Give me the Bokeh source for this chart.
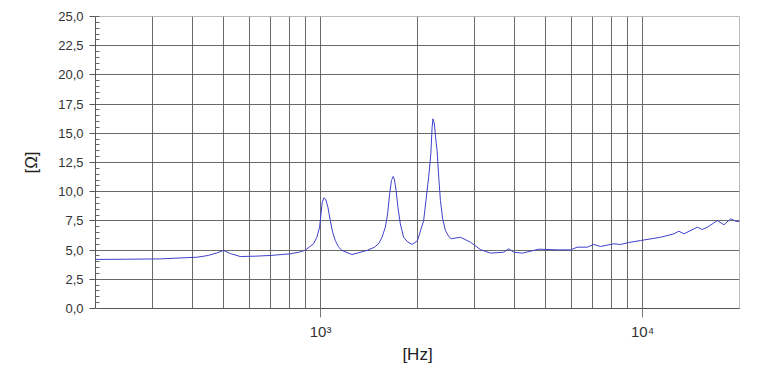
from bokeh.plotting import figure
from bokeh.models import FixedTicker, CustomJSTickFormatter, Range1d
from bokeh.embed import file_html
from bokeh.resources import INLINE

freq_hz = [200, 250, 318, 413, 448, 475, 500, 525, 563, 627, 698, 805, 865, 897,
           951, 974, 993, 1003, 1012, 1025, 1039, 1054, 1072, 1090, 1111, 1138, 1166,
           1252, 1394, 1470, 1514, 1552, 1589, 1615, 1639, 1660, 1680, 1694, 1716,
           1739, 1769, 1811, 1864, 1924, 2000, 2090, 2125, 2166, 2200, 2220, 2234,
           2257, 2276, 2301, 2328, 2356, 2394, 2442, 2501, 2545, 2719, 2920, 3135,
           3369, 3706, 3841, 3981, 4227, 4593, 4761, 5430, 5973, 6266, 6731, 7057,
           7403, 8142, 8543, 9067, 9858, 11373, 12514, 12966, 13440, 14794, 15335,
           15893, 17068, 17890, 18770, 19460, 20000]
impedance_ohm = [4.2, 4.22, 4.25, 4.39, 4.54, 4.75, 4.97, 4.7, 4.45, 4.48, 4.54, 4.68,
                 4.85, 5.0, 5.54, 6.1, 6.96, 8.1, 9.1, 9.48, 9.3, 8.67, 7.53, 6.53,
                 5.82, 5.25, 4.97, 4.62, 4.97, 5.25, 5.54, 6.1, 6.96, 8.1, 9.82, 10.96,
                 11.3, 11.1, 10.1, 8.67, 7.25, 6.1, 5.7, 5.48, 5.82, 7.53, 9.25, 11.24,
                 13.24, 15.5, 16.24, 15.8, 14.67, 13.5, 11.24, 9.25, 7.68, 6.68, 6.16,
                 5.97, 6.1, 5.68, 5.05, 4.74, 4.82, 5.11, 4.82, 4.74, 4.97, 5.08, 5.02,
                 5.02, 5.25, 5.25, 5.48, 5.31, 5.54, 5.48, 5.65, 5.82, 6.1, 6.39, 6.62,
                 6.39, 6.96, 6.76, 6.96, 7.53, 7.17, 7.68, 7.47, 7.45]

x_major_ticks = [1000, 10000]
x_minor_ticks = [300, 400, 500, 600, 700, 800, 900, 2000, 3000, 4000, 5000,
                 6000, 7000, 8000, 9000]
y_major_ticks = [0, 2.5, 5, 7.5, 10, 12.5, 15, 17.5, 20, 22.5, 25]
y_minor_ticks = [i * 0.5 for i in range(51)]

FONT = "Liberation Sans"
GRID = "#5a5a5a"

p = figure(width=780, height=373, x_axis_type="log", output_backend="svg",
           toolbar_location=None, x_range=Range1d(200, 20000), y_range=Range1d(0, 25),
           min_border_left=95, min_border_right=41, min_border_top=16,
           min_border_bottom=65, background_fill_color="white",
           border_fill_color="white", outline_line_color="#bbbbbb")

p.line(freq_hz, impedance_ohm, line_color="#4040cc", line_width=1)

# x axis
xa = p.xaxis[0]
xa.ticker = FixedTicker(ticks=x_major_ticks, minor_ticks=x_minor_ticks)
xa.formatter = CustomJSTickFormatter(code="""
const e = Math.round(Math.log10(tick));
const sup = {'0':'\u2070','1':'\u00b9','2':'\u00b2','3':'\u00b3','4':'\u2074','5':'\u2075'};
return '10' + String(e).split('').map(c => sup[c]).join('');
""")
xa.minor_tick_line_color = None
xa.major_tick_in = 0
xa.major_tick_out = 9
xa.major_tick_line_color = "#777777"
xa.axis_line_color = "#555555"
xa.major_label_text_font = FONT
xa.major_label_text_font_size = "15px"
xa.major_label_text_color = "#333333"
xa.major_label_standoff = 5
xa.axis_label = "[Hz]"
xa.axis_label_text_font = FONT
xa.axis_label_text_font_size = "17px"
xa.axis_label_text_font_style = "normal"
xa.axis_label_text_color = "#222222"
xa.axis_label_standoff = 2

# y axis
ya = p.yaxis[0]
ya.ticker = FixedTicker(ticks=y_major_ticks, minor_ticks=y_minor_ticks)
ya.formatter = CustomJSTickFormatter(code="return tick.toFixed(1).replace('.', ',');")
ya.major_tick_in = 0
ya.major_tick_out = 6
ya.minor_tick_in = 4
ya.minor_tick_out = 0
ya.major_tick_line_color = "#555555"
ya.minor_tick_line_color = "#666666"
ya.axis_line_color = "#555555"
ya.major_label_text_font = FONT
ya.major_label_text_font_size = "13px"
ya.major_label_text_color = "#333333"
ya.major_label_standoff = 6
ya.axis_label = "[Ω]"
ya.axis_label_text_font = FONT
ya.axis_label_text_font_size = "17px"
ya.axis_label_text_font_style = "normal"
ya.axis_label_text_color = "#222222"
ya.axis_label_standoff = 14

# grids
p.xgrid.grid_line_color = GRID
p.xgrid.minor_grid_line_color = GRID
p.xgrid.grid_line_alpha = 0.9
p.xgrid.minor_grid_line_alpha = 0.9
p.ygrid.grid_line_color = GRID
p.ygrid.grid_line_alpha = 0.9
p.ygrid.minor_grid_line_color = None

open("out.html", "w").write(file_html(p, INLINE))
